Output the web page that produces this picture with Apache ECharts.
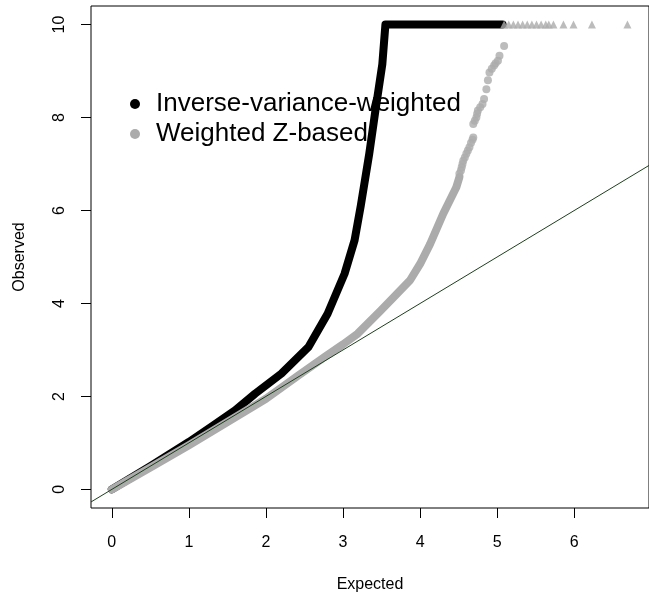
<!DOCTYPE html>
<html>
<head>
<meta charset="utf-8">
<script src="https://cdn.jsdelivr.net/npm/echarts@6/dist/echarts.min.js"></script>
<style>
  html, body { margin: 0; padding: 0; background: #fff; }
  #chart { width: 649px; height: 599px; }
</style>
</head>
<body>
<div id="chart"></div>
<script>
// QQ plot of -log10(p): expected vs observed for two meta-analysis schemes
const seriesNames = ['Inverse-variance-weighted', 'Weighted Z-based'];

// Inverse-variance-weighted: dense curve, truncated at 10
const ivwExpected = [0, 0.5, 1.0, 1.3, 1.6, 1.86, 2.2, 2.55, 2.8, 3.02, 3.15, 3.23, 3.34, 3.42, 3.51, 3.55, 5.07];
const ivwObserved = [0, 0.5, 1.02, 1.36, 1.7, 2.06, 2.49, 3.06, 3.78, 4.64, 5.36, 6.1, 7.22, 8.15, 9.15, 10, 10];

// Weighted Z-based: dense part of the curve
const zExpected = [0, 0.5, 1.0, 1.5, 2.0, 2.42, 2.76, 3.0, 3.19, 3.49, 3.66, 3.87, 4.0, 4.13, 4.3, 4.47, 4.51];
const zObserved = [0, 0.47, 0.95, 1.45, 1.95, 2.45, 2.85, 3.12, 3.35, 3.85, 4.14, 4.5, 4.85, 5.28, 5.93, 6.5, 6.72];

// Weighted Z-based: sparse upper tail, one point each
const zTailExpected = [4.51, 4.53, 4.54, 4.55, 4.56, 4.58, 4.60, 4.62, 4.64, 4.66, 4.68, 4.69, 4.69, 4.71, 4.73, 4.74, 4.75, 4.78, 4.81, 4.83, 4.86, 4.88, 4.90, 4.93, 4.96, 4.98, 5.01, 5.03, 5.09];
const zTailObserved = [6.79, 6.86, 6.93, 7.00, 7.07, 7.14, 7.22, 7.29, 7.36, 7.45, 7.52, 7.57, 7.86, 7.93, 8.00, 8.08, 8.15, 8.22, 8.29, 8.40, 8.61, 8.80, 8.97, 9.05, 9.12, 9.17, 9.22, 9.33, 9.54];

// Weighted Z-based: values beyond the ceiling, drawn at 10 as triangles
const cappedExpected = [5.09, 5.15, 5.21, 5.27, 5.33, 5.39, 5.45, 5.51, 5.57, 5.63, 5.67, 5.73, 5.86, 5.99, 6.23, 6.69];
const cappedObserved = [10, 10, 10, 10, 10, 10, 10, 10, 10, 10, 10, 10, 10, 10, 10, 10];

const xTicks = [0, 1, 2, 3, 4, 5, 6];
const yTicks = [0, 2, 4, 6, 8, 10];
const xRange = [-0.27, 6.97];
const yRange = [-0.4, 10.4];

const pairs = (xs, ys) => xs.map((x, i) => [x, ys[i]]);

const BLACK = '#000000';
const GREY = '#ababab';
const FONT = 'Liberation Sans, Arial, sans-serif';

const chart = echarts.init(document.getElementById('chart'), null, { renderer: 'canvas' });

chart.setOption({
  backgroundColor: '#ffffff',
  animation: false,
  grid: {
    left: 91, top: 6, right: -6, bottom: 91,
    show: true, borderColor: '#000', borderWidth: 1, backgroundColor: 'transparent'
  },
  legend: {
    orient: 'vertical',
    left: 125, top: 84,
    itemWidth: 20, itemHeight: 10, itemGap: 0,
    textStyle: { fontFamily: FONT, fontSize: 26, color: '#000', lineHeight: 30, padding: [0, 0, 0, 6] },
    data: [
      { name: seriesNames[0], icon: 'circle', itemStyle: { color: BLACK } },
      { name: seriesNames[1], icon: 'circle', itemStyle: { color: GREY } }
    ]
  },
  xAxis: {
    type: 'value',
    min: xRange[0], max: xRange[1],
    name: 'Expected', nameLocation: 'middle', nameGap: 69,
    nameTextStyle: { fontFamily: FONT, fontSize: 16, color: '#000' },
    axisLine: { show: false, onZero: false },
    axisTick: { show: true, inside: false, length: 10, lineStyle: { color: '#000', width: 1 }, customValues: xTicks },
    axisLabel: { show: true, margin: 27, fontFamily: FONT, fontSize: 16, color: '#000', customValues: xTicks },
    splitLine: { show: false }
  },
  yAxis: {
    type: 'value',
    min: yRange[0], max: yRange[1],
    name: 'Observed', nameLocation: 'middle', nameGap: 63,
    nameTextStyle: { fontFamily: FONT, fontSize: 16, color: '#000' },
    axisLine: { show: false, onZero: false },
    axisTick: { show: true, inside: false, length: 10, lineStyle: { color: '#000', width: 1 }, customValues: yTicks },
    axisLabel: { show: true, rotate: 90, margin: 23, fontFamily: FONT, fontSize: 16, color: '#000', customValues: yTicks },
    splitLine: { show: false }
  },
  series: [
    {
      name: seriesNames[0], type: 'line', data: pairs(ivwExpected, ivwObserved),
      showSymbol: false, symbol: 'none', color: BLACK,
      lineStyle: { color: BLACK, width: 8, cap: 'round', join: 'round' }, z: 2
    },
    {
      name: seriesNames[1], type: 'line', data: pairs(zExpected, zObserved),
      showSymbol: false, symbol: 'none', color: GREY,
      lineStyle: { color: GREY, width: 8, cap: 'round', join: 'round' }, z: 3
    },
    {
      name: seriesNames[1], type: 'scatter', data: pairs(zTailExpected, zTailObserved),
      symbol: 'circle', symbolSize: 8, itemStyle: { color: GREY }, z: 3
    },
    {
      name: seriesNames[1], type: 'scatter', data: pairs(cappedExpected, cappedObserved),
      symbol: 'triangle', symbolSize: [8, 8], itemStyle: { color: GREY }, z: 3
    },
    {
      name: 'y = x', type: 'line', data: [[xRange[0], xRange[0]], [xRange[1], xRange[1]]],
      showSymbol: false, symbol: 'none', color: '#1c3f1c',
      lineStyle: { color: '#1c3f1c', width: 1 }, z: 4, silent: true
    }
  ]
});
</script>
</body>
</html>
